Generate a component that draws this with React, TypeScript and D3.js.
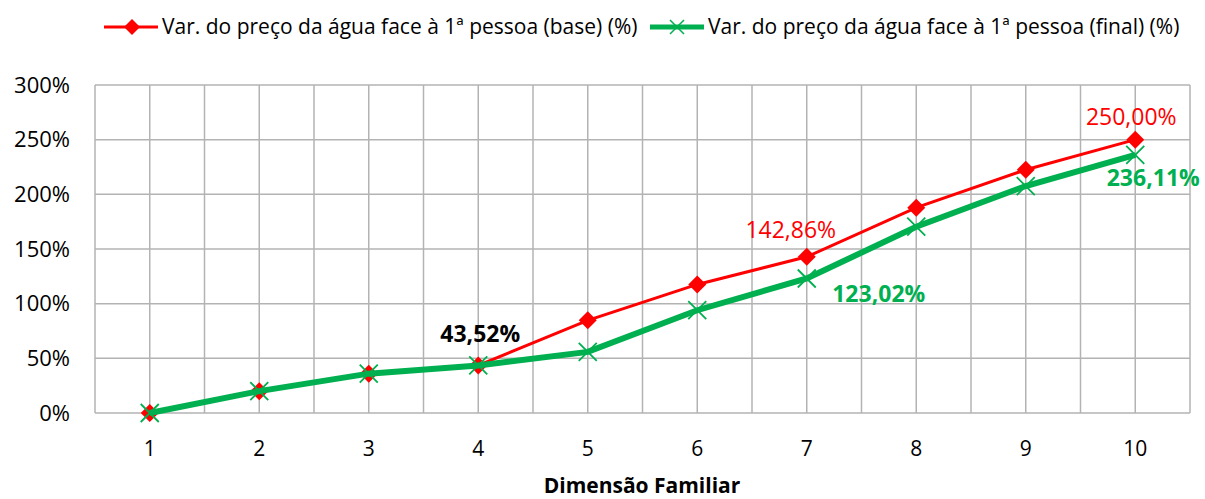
import React from "react";
import * as d3 from "d3";

const categories = ["1", "2", "3", "4", "5", "6", "7", "8", "9", "10"];
const baseValues = [0, 20, 36, 43.52, 84.8, 117.6, 142.86, 187.8, 222.5, 250.0];
const finalValues = [0, 20, 36, 43.52, 55.9, 94.0, 123.02, 170.4, 207.6, 236.11];
const yTicks = [0, 50, 100, 150, 200, 250, 300];
const seriesNames = [
  "Var. do preço da água face à 1ª pessoa (base) (%)",
  "Var. do preço da água face à 1ª pessoa (final) (%)",
];

const W = 1205;
const H = 499;
const M = { left: 95, right: 1190, top: 85, bottom: 413 };
const FONT = "'Open Sans', 'Noto Sans', sans-serif";
const RED = "#ff0000";
const GREEN = "#00b050";
const GRID = "#b3b3b3";

export default function App() {
  const x = d3.scaleBand<string>().domain(categories).range([M.left, M.right]).padding(0);
  const y = d3.scaleLinear().domain([0, 300]).range([M.bottom, M.top]);
  const cx = (c: string) => (x(c) as number) + x.bandwidth() / 2;

  const vLines: number[] = [];
  categories.forEach((c) => {
    vLines.push(x(c) as number);
    vLines.push(cx(c));
  });
  vLines.push(M.right);

  const line = d3
    .line<number>()
    .x((_, i) => cx(categories[i]))
    .y((d) => y(d));

  const diamond = (px: number, py: number, r: number) =>
    `M${px},${py - r}L${px + r},${py}L${px},${py + r}L${px - r},${py}Z`;
  const cross = (px: number, py: number, r: number) =>
    `M${px - r},${py - r}L${px + r},${py + r}M${px - r},${py + r}L${px + r},${py - r}`;

  return (
    <svg width={W} height={H} style={{ position: "absolute", left: 0, top: 0, background: "#fff" }}>
      {/* grid */}
      {yTicks.map((t) => (
        <line key={"h" + t} x1={M.left} x2={M.right} y1={y(t)} y2={y(t)} stroke={GRID} strokeWidth={1.5} />
      ))}
      {vLines.map((v, i) => (
        <line key={"v" + i} x1={v} x2={v} y1={M.top} y2={M.bottom} stroke={GRID} strokeWidth={1.5} />
      ))}
      {/* y ticks */}
      {yTicks.map((t) => (
        <text key={"yt" + t} x={70} y={y(t) + 7.5} textAnchor="end" fontFamily={FONT} fontSize={22} fill="#000">
          {t + "%"}
        </text>
      ))}
      {/* x ticks */}
      {categories.map((c) => (
        <text key={"xt" + c} x={cx(c)} y={456} textAnchor="middle" fontFamily={FONT} fontSize={21} fill="#000">
          {c}
        </text>
      ))}
      <text x={642} y={493} textAnchor="middle" fontFamily={FONT} fontSize={21} fontWeight="bold" fill="#000">
        Dimensão Familiar
      </text>

      {/* base series */}
      <path d={line(baseValues) || ""} fill="none" stroke={RED} strokeWidth={3} />
      {baseValues.map((v, i) => (
        <path key={"bd" + i} d={diamond(cx(categories[i]), y(v), 9)} fill={RED} />
      ))}
      {/* final series */}
      <path d={line(finalValues) || ""} fill="none" stroke={GREEN} strokeWidth={6} />
      {finalValues.map((v, i) => (
        <path key={"fx" + i} d={cross(cx(categories[i]), y(v), 9)} stroke={GREEN} strokeWidth={1.8} fill="none" />
      ))}

      {/* data labels */}
      <text x={cx("4") + 2} y={y(43.52) - 23} textAnchor="middle" fontFamily={FONT} fontSize={23} fontWeight="bold" fill="#000">
        43,52%
      </text>
      <text x={cx("7") - 16} y={y(142.86) - 19} textAnchor="middle" fontFamily={FONT} fontSize={23} fill={RED}>
        142,86%
      </text>
      <text x={cx("7") + 72} y={y(123.02) + 24} textAnchor="middle" fontFamily={FONT} fontSize={23} fontWeight="bold" fill={GREEN}>
        123,02%
      </text>
      <text x={cx("10") - 4} y={y(250) - 15} textAnchor="middle" fontFamily={FONT} fontSize={23} fill={RED}>
        250,00%
      </text>
      <text x={cx("10") + 18} y={y(236.11) + 31} textAnchor="middle" fontFamily={FONT} fontSize={23} fontWeight="bold" fill={GREEN}>
        236,11%
      </text>

      {/* legend */}
      <line x1={104} x2={158} y1={27} y2={27} stroke={RED} strokeWidth={3} />
      <path d={diamond(132, 27, 8)} fill={RED} />
      <text x={162} y={34} fontFamily={FONT} fontSize={21} fill="#000">
        {seriesNames[0]}
      </text>
      <line x1={650} x2={704} y1={27} y2={27} stroke={GREEN} strokeWidth={5} />
      <path d={cross(677, 27, 7)} stroke={GREEN} strokeWidth={1.5} fill="none" />
      <text x={708} y={34} fontFamily={FONT} fontSize={21} fill="#000">
        {seriesNames[1]}
      </text>
    </svg>
  );
}
